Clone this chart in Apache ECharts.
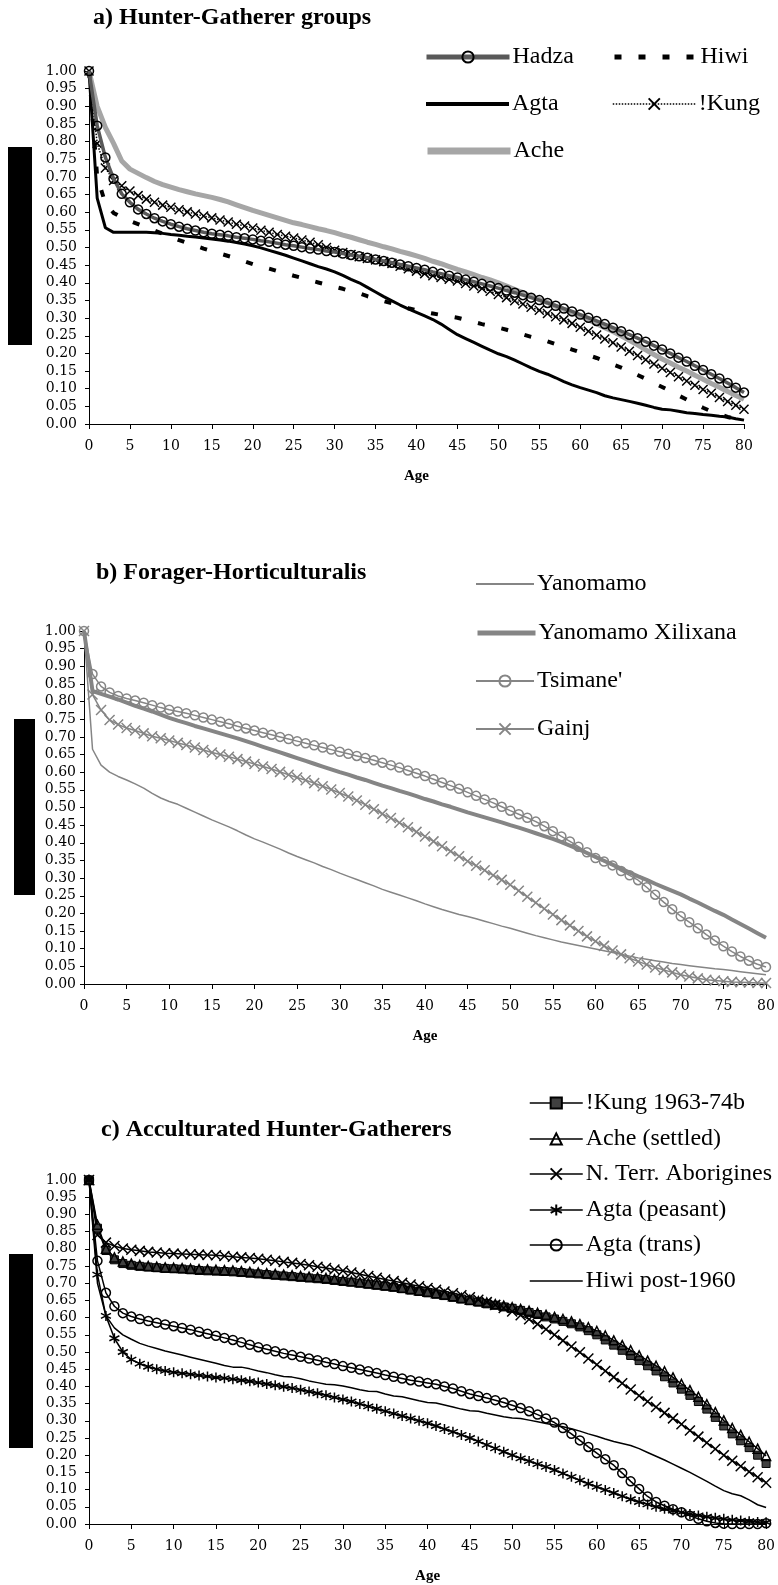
<!DOCTYPE html>
<html>
<head>
<meta charset="utf-8">
<script src="https://cdn.jsdelivr.net/npm/echarts@6/dist/echarts.min.js"></script>
<style>
  html, body { margin: 0; padding: 0; background: #fff; }
  #chart { width: 778px; height: 1585px; }
</style>
</head>
<body>
<div id="chart"></div>
<script>
// Age in years (x values shared by every survivorship curve)
const ages = [0,1,2,3,4,5,6,7,8,9,10,11,12,13,14,15,16,17,18,19,20,21,22,23,24,25,26,27,28,29,30,31,32,33,34,35,36,37,38,39,40,41,42,43,44,45,46,47,48,49,50,51,52,53,54,55,56,57,58,59,60,61,62,63,64,65,66,67,68,69,70,71,72,73,74,75,76,77,78,79,80];

// Panel titles
const titleA = 'a) Hunter-Gatherer groups';
const titleB = 'b) Forager-Horticulturalis';
const titleC = 'c) Acculturated Hunter-Gatherers';
const axisTitle = 'Age';

// a) Hunter-Gatherer groups: proportion surviving to each age
const hadza = [1.000,0.845,0.755,0.695,0.652,0.628,0.608,0.595,0.583,0.574,0.566,0.559,0.553,0.548,0.543,0.539,0.536,0.533,0.529,0.526,0.523,0.519,0.516,0.512,0.508,0.505,0.501,0.497,0.494,0.490,0.487,0.483,0.479,0.475,0.471,0.466,0.462,0.457,0.452,0.447,0.442,0.437,0.431,0.426,0.420,0.415,0.409,0.403,0.397,0.391,0.385,0.378,0.372,0.365,0.358,0.351,0.343,0.335,0.327,0.319,0.310,0.301,0.292,0.283,0.273,0.263,0.253,0.243,0.233,0.222,0.211,0.200,0.188,0.177,0.165,0.153,0.141,0.129,0.116,0.103,0.089];
const hiwi = [1.000,0.700,0.625,0.598,0.585,0.575,0.566,0.557,0.548,0.539,0.530,0.521,0.513,0.505,0.497,0.490,0.483,0.476,0.469,0.461,0.453,0.446,0.440,0.433,0.427,0.420,0.414,0.407,0.401,0.395,0.389,0.383,0.376,0.370,0.362,0.355,0.348,0.342,0.335,0.328,0.322,0.317,0.313,0.309,0.305,0.301,0.295,0.289,0.283,0.278,0.273,0.267,0.260,0.254,0.247,0.241,0.234,0.226,0.219,0.211,0.203,0.195,0.187,0.178,0.169,0.160,0.150,0.139,0.128,0.116,0.105,0.093,0.081,0.069,0.057,0.046,0.036,0.028,0.020,0.014,0.010];
const agta = [1.000,0.640,0.556,0.543,0.543,0.543,0.543,0.543,0.542,0.540,0.537,0.535,0.532,0.530,0.527,0.524,0.521,0.518,0.514,0.510,0.505,0.499,0.492,0.485,0.478,0.470,0.462,0.454,0.446,0.439,0.431,0.421,0.410,0.400,0.387,0.374,0.361,0.349,0.337,0.326,0.316,0.306,0.296,0.283,0.268,0.253,0.242,0.231,0.220,0.209,0.199,0.191,0.181,0.170,0.159,0.149,0.141,0.131,0.120,0.111,0.103,0.096,0.089,0.080,0.074,0.069,0.064,0.059,0.053,0.047,0.042,0.040,0.036,0.032,0.030,0.027,0.025,0.022,0.020,0.015,0.011];
const kung = [1.000,0.795,0.725,0.690,0.675,0.660,0.647,0.637,0.628,0.620,0.614,0.607,0.601,0.595,0.589,0.584,0.578,0.572,0.566,0.561,0.555,0.549,0.543,0.537,0.532,0.527,0.521,0.515,0.508,0.500,0.492,0.486,0.480,0.474,0.469,0.465,0.460,0.455,0.447,0.440,0.433,0.426,0.420,0.415,0.410,0.405,0.398,0.391,0.384,0.376,0.367,0.358,0.349,0.340,0.331,0.322,0.313,0.304,0.295,0.285,0.274,0.263,0.252,0.241,0.230,0.218,0.206,0.194,0.182,0.170,0.158,0.146,0.134,0.122,0.110,0.098,0.087,0.075,0.064,0.053,0.042];
const ache = [1.000,0.900,0.840,0.795,0.745,0.722,0.710,0.698,0.687,0.678,0.671,0.664,0.658,0.652,0.647,0.642,0.636,0.629,0.621,0.613,0.605,0.598,0.591,0.584,0.577,0.570,0.565,0.559,0.553,0.548,0.542,0.535,0.529,0.522,0.515,0.509,0.502,0.496,0.489,0.483,0.476,0.469,0.461,0.454,0.446,0.438,0.431,0.423,0.415,0.408,0.400,0.391,0.381,0.372,0.362,0.353,0.344,0.334,0.325,0.315,0.306,0.295,0.284,0.273,0.262,0.250,0.237,0.224,0.210,0.197,0.184,0.173,0.161,0.150,0.138,0.127,0.115,0.104,0.092,0.081,0.070];

// b) Forager-Horticulturalists
const yanomamo = [1.000,0.665,0.620,0.600,0.588,0.578,0.567,0.555,0.540,0.527,0.517,0.509,0.498,0.487,0.476,0.465,0.455,0.445,0.434,0.422,0.411,0.402,0.392,0.382,0.371,0.361,0.352,0.343,0.333,0.324,0.314,0.305,0.296,0.287,0.278,0.268,0.260,0.252,0.244,0.236,0.227,0.219,0.211,0.204,0.197,0.191,0.185,0.178,0.171,0.164,0.158,0.151,0.144,0.137,0.131,0.125,0.119,0.114,0.109,0.104,0.099,0.094,0.089,0.084,0.079,0.074,0.070,0.066,0.062,0.058,0.055,0.052,0.049,0.046,0.043,0.041,0.038,0.035,0.032,0.029,0.026];
const xilixana = [1.000,0.830,0.822,0.814,0.806,0.797,0.788,0.780,0.772,0.763,0.754,0.746,0.739,0.731,0.724,0.717,0.710,0.703,0.696,0.688,0.680,0.672,0.664,0.656,0.648,0.640,0.632,0.624,0.616,0.608,0.600,0.593,0.585,0.578,0.570,0.562,0.555,0.547,0.540,0.532,0.524,0.517,0.509,0.502,0.494,0.486,0.479,0.472,0.465,0.458,0.450,0.443,0.435,0.427,0.419,0.411,0.402,0.392,0.382,0.371,0.360,0.349,0.338,0.327,0.316,0.305,0.295,0.284,0.274,0.264,0.254,0.242,0.231,0.219,0.207,0.196,0.183,0.170,0.157,0.144,0.131];
const tsimane = [1.000,0.878,0.843,0.826,0.816,0.809,0.803,0.797,0.790,0.783,0.777,0.772,0.767,0.761,0.755,0.749,0.743,0.737,0.730,0.724,0.718,0.712,0.706,0.700,0.694,0.688,0.682,0.676,0.670,0.664,0.658,0.652,0.646,0.640,0.634,0.627,0.620,0.613,0.605,0.597,0.589,0.580,0.571,0.562,0.553,0.543,0.533,0.523,0.513,0.502,0.491,0.481,0.471,0.460,0.447,0.433,0.418,0.404,0.389,0.373,0.357,0.347,0.336,0.320,0.308,0.294,0.274,0.253,0.232,0.212,0.192,0.175,0.158,0.140,0.123,0.107,0.092,0.078,0.066,0.056,0.048];
const gainj = [1.000,0.820,0.776,0.748,0.735,0.725,0.718,0.710,0.702,0.696,0.690,0.683,0.677,0.670,0.663,0.656,0.650,0.644,0.637,0.630,0.623,0.616,0.609,0.601,0.593,0.585,0.577,0.569,0.560,0.551,0.541,0.531,0.520,0.508,0.495,0.482,0.470,0.457,0.444,0.431,0.418,0.404,0.390,0.376,0.362,0.348,0.335,0.322,0.308,0.295,0.281,0.264,0.247,0.230,0.213,0.197,0.181,0.166,0.150,0.135,0.121,0.108,0.095,0.084,0.073,0.064,0.055,0.047,0.040,0.033,0.026,0.021,0.016,0.012,0.010,0.008,0.006,0.005,0.004,0.003,0.003];

// c) Acculturated Hunter-Gatherers
const kung6374 = [1.000,0.860,0.795,0.768,0.757,0.752,0.749,0.747,0.745,0.743,0.742,0.741,0.739,0.737,0.736,0.735,0.734,0.733,0.731,0.729,0.727,0.725,0.723,0.721,0.719,0.717,0.715,0.713,0.711,0.708,0.705,0.703,0.700,0.697,0.694,0.691,0.688,0.684,0.680,0.676,0.672,0.668,0.664,0.659,0.654,0.649,0.645,0.640,0.636,0.631,0.627,0.621,0.615,0.609,0.602,0.596,0.589,0.582,0.573,0.562,0.550,0.535,0.520,0.505,0.490,0.475,0.460,0.445,0.428,0.410,0.392,0.374,0.356,0.334,0.310,0.285,0.262,0.242,0.222,0.200,0.176];
const acheSettled = [1.000,0.870,0.800,0.775,0.763,0.757,0.753,0.750,0.748,0.746,0.745,0.744,0.742,0.741,0.740,0.739,0.738,0.737,0.735,0.733,0.731,0.729,0.727,0.725,0.723,0.721,0.719,0.717,0.715,0.712,0.709,0.706,0.703,0.700,0.697,0.694,0.691,0.687,0.683,0.679,0.675,0.671,0.667,0.662,0.657,0.652,0.648,0.644,0.639,0.635,0.630,0.625,0.620,0.614,0.608,0.602,0.596,0.589,0.581,0.572,0.561,0.548,0.534,0.520,0.505,0.490,0.475,0.460,0.444,0.426,0.407,0.389,0.370,0.348,0.325,0.301,0.279,0.259,0.239,0.219,0.198];
const ntAborigines = [1.000,0.840,0.818,0.808,0.801,0.797,0.794,0.791,0.789,0.787,0.786,0.785,0.784,0.783,0.782,0.781,0.779,0.777,0.775,0.773,0.771,0.768,0.765,0.762,0.759,0.756,0.752,0.748,0.744,0.740,0.736,0.731,0.726,0.721,0.716,0.711,0.706,0.701,0.696,0.691,0.686,0.681,0.676,0.671,0.665,0.659,0.652,0.645,0.637,0.628,0.618,0.607,0.595,0.581,0.566,0.550,0.533,0.516,0.499,0.481,0.463,0.445,0.427,0.409,0.391,0.373,0.356,0.340,0.323,0.307,0.290,0.272,0.254,0.236,0.218,0.200,0.184,0.168,0.152,0.136,0.120];
const agtaPeasant = [1.000,0.725,0.605,0.540,0.500,0.478,0.466,0.457,0.450,0.445,0.441,0.438,0.435,0.432,0.429,0.426,0.424,0.421,0.418,0.415,0.411,0.407,0.403,0.399,0.395,0.390,0.385,0.380,0.374,0.368,0.362,0.356,0.349,0.342,0.335,0.328,0.321,0.314,0.307,0.300,0.293,0.285,0.276,0.268,0.259,0.250,0.240,0.230,0.220,0.210,0.200,0.191,0.183,0.174,0.166,0.157,0.147,0.137,0.127,0.117,0.108,0.099,0.090,0.081,0.072,0.064,0.057,0.050,0.044,0.039,0.034,0.029,0.025,0.021,0.018,0.015,0.012,0.010,0.008,0.006,0.005];
const agtaTrans = [1.000,0.765,0.672,0.633,0.613,0.603,0.596,0.590,0.585,0.580,0.575,0.570,0.565,0.559,0.553,0.547,0.541,0.535,0.528,0.521,0.514,0.508,0.502,0.496,0.491,0.486,0.481,0.476,0.470,0.465,0.459,0.454,0.449,0.444,0.439,0.433,0.428,0.423,0.418,0.414,0.410,0.406,0.400,0.394,0.386,0.378,0.372,0.366,0.360,0.353,0.345,0.337,0.328,0.318,0.307,0.295,0.279,0.262,0.243,0.224,0.206,0.188,0.171,0.148,0.124,0.102,0.080,0.064,0.053,0.043,0.034,0.024,0.015,0.008,0.003,0.001,0.000,0.000,0.000,0.000,0.002];
const hiwiPost1960 = [1.000,0.700,0.605,0.570,0.550,0.537,0.525,0.517,0.510,0.503,0.497,0.491,0.485,0.479,0.473,0.467,0.461,0.456,0.456,0.451,0.445,0.440,0.434,0.429,0.427,0.422,0.416,0.411,0.406,0.405,0.401,0.396,0.390,0.386,0.385,0.378,0.372,0.370,0.364,0.358,0.353,0.352,0.346,0.340,0.334,0.329,0.328,0.322,0.317,0.312,0.308,0.307,0.302,0.297,0.292,0.288,0.283,0.277,0.270,0.262,0.255,0.247,0.240,0.234,0.228,0.219,0.208,0.197,0.186,0.174,0.162,0.150,0.137,0.124,0.110,0.097,0.088,0.082,0.070,0.056,0.048];

const SERIF = 'Liberation Serif';
const TICK_FONT = 'DejaVu Serif';
const CROSS = 'path://M0,0L10,10M10,0L0,10';
const STAR = 'path://M5,0L5,10M0.7,2.5L9.3,7.5M0.7,7.5L9.3,2.5';

function pairs(values) {
  return ages.map((a, i) => [a, values[i]]);
}

// Plot-area placement for the three stacked panels
const grids = [
  { left: 89, top: 71, width: 655, height: 353 },
  { left: 84, top: 631, width: 682, height: 353 },
  { left: 89, top: 1180, width: 681, height: 346 }
];
const yLabelGap = [12, 8, 12];

function xAxisFor(gi) {
  return {
    type: 'value', gridIndex: gi, min: 0, max: 80, interval: 5,
    axisLine: { show: true, lineStyle: { color: '#000', width: 1 } },
    axisTick: { show: true, length: 5, lineStyle: { color: '#000' } },
    axisLabel: { color: '#000', fontFamily: TICK_FONT, fontSize: 14, margin: 15 },
    splitLine: { show: false },
    name: axisTitle, nameLocation: 'middle', nameGap: 45,
    nameTextStyle: { fontFamily: SERIF, fontWeight: 'bold', fontSize: 15, color: '#000' }
  };
}
function yAxisFor(gi) {
  return {
    type: 'value', gridIndex: gi, min: 0, max: 1, interval: 0.05,
    axisLine: { show: true, lineStyle: { color: '#000', width: 1 } },
    axisTick: { show: true, length: 4, lineStyle: { color: '#000' } },
    axisLabel: { color: '#000', fontFamily: TICK_FONT, fontSize: 14, margin: yLabelGap[gi],
      formatter: v => v.toFixed(2) },
    splitLine: { show: false }
  };
}

function line(name, gi, values, opts) {
  return {
    name, type: 'line', xAxisIndex: gi, yAxisIndex: gi,
    data: pairs(values), animation: false, silent: true,
    showAllSymbol: true,
    symbol: opts.symbol || 'none', symbolSize: opts.symbolSize || 8,
    lineStyle: { color: opts.color, width: opts.width, type: opts.dash || 'solid' },
    itemStyle: opts.item || { color: opts.color },
    z: opts.z || 2
  };
}

// One legend block per entry so each can sit exactly where it belongs
function legendItem(name, left, cy, itemWidth, lineWidth, plain) {
  const lg = {
    data: [name], left, top: cy - 13, orient: 'horizontal',
    itemWidth, itemHeight: 14, itemGap: 0, padding: 0,
    selectedMode: false,
    lineStyle: { width: lineWidth },
    textStyle: { fontFamily: SERIF, fontSize: 24, color: '#000', padding: [0, 0, 0, -2] }
  };
  if (plain) lg.itemStyle = { opacity: 0 };
  return lg;
}

const openMark = (stroke) => ({ color: 'transparent', borderColor: stroke, borderWidth: 1.5 });

const series = [
  // a)
  line('Ache', 0, ache, { color: '#a6a6a6', width: 5, z: 1 }),
  line('Agta', 0, agta, { color: '#000', width: 3, z: 2 }),
  line('Hiwi', 0, hiwi, { color: '#000', width: 4, dash: [7, 17], z: 2 }),
  line('!Kung', 0, kung, { color: '#000', width: 1.5, dash: 'dotted', symbol: CROSS, symbolSize: 9, item: openMark('#000'), z: 3 }),
  line('Hadza', 0, hadza, { color: '#595959', width: 3.5, symbol: 'circle', symbolSize: 9, item: openMark('#000'), z: 4 }),
  // b)
  line('Yanomamo', 1, yanomamo, { color: '#858585', width: 1.5 }),
  line('Yanomamo Xilixana', 1, xilixana, { color: '#858585', width: 4 }),
  line("Tsimane'", 1, tsimane, { color: '#858585', width: 1.5, symbol: 'circle', symbolSize: 9, item: openMark('#858585') }),
  line('Gainj', 1, gainj, { color: '#858585', width: 1.5, symbol: CROSS, symbolSize: 10, item: openMark('#858585') }),
  // c)
  line('!Kung 1963-74b', 2, kung6374, { color: '#000', width: 1.5, symbol: 'rect', symbolSize: 8, item: { color: '#404040', borderColor: '#000', borderWidth: 1 } }),
  line('Ache (settled)', 2, acheSettled, { color: '#000', width: 1.5, symbol: 'triangle', symbolSize: 9, item: openMark('#000') }),
  line('N. Terr. Aborigines', 2, ntAborigines, { color: '#000', width: 1.5, symbol: CROSS, symbolSize: 10, item: openMark('#000') }),
  line('Agta (peasant)', 2, agtaPeasant, { color: '#000', width: 1.5, symbol: STAR, symbolSize: 10, item: openMark('#000') }),
  line('Agta (trans)', 2, agtaTrans, { color: '#000', width: 1.5, symbol: 'circle', symbolSize: 9, item: openMark('#000') }),
  line('Hiwi post-1960', 2, hiwiPost1960, { color: '#000', width: 1.5 })
];

const legends = [
  legendItem('Hadza', 424, 58, 83, 5),
  legendItem('Agta', 424, 105, 83, 4, true),
  legendItem('Ache', 424, 152, 83, 7, true),
  legendItem('Hiwi', 612, 58, 83, 5, true),
  legendItem('!Kung', 612, 105, 83, 1.5),
  legendItem('Yanomamo', 475, 585, 58, 2, true),
  legendItem('Yanomamo Xilixana', 475, 634, 58, 5, true),
  legendItem("Tsimane'", 475, 682, 58, 2),
  legendItem('Gainj', 475, 730, 58, 2),
  legendItem('!Kung 1963-74b', 529, 1104, 53, 1.5),
  legendItem('Ache (settled)', 529, 1140, 53, 1.5),
  legendItem('N. Terr. Aborigines', 529, 1175, 53, 1.5),
  legendItem('Agta (peasant)', 529, 1211, 53, 1.5),
  legendItem('Agta (trans)', 529, 1246, 53, 1.5),
  legendItem('Hiwi post-1960', 529, 1282, 53, 1.5, true)
];

const titleStyle = { fontFamily: SERIF, fontWeight: 'bold', fontSize: 24, color: '#000' };

const option = {
  backgroundColor: '#fff',
  animation: false,
  title: [
    { text: titleA, left: 93, top: 6, padding: 0, textStyle: titleStyle },
    { text: titleB, left: 96, top: 561, padding: 0, textStyle: titleStyle },
    { text: titleC, left: 101, top: 1118, padding: 0, textStyle: titleStyle }
  ],
  legend: legends,
  grid: grids,
  xAxis: [xAxisFor(0), xAxisFor(1), xAxisFor(2)],
  yAxis: [yAxisFor(0), yAxisFor(1), yAxisFor(2)],
  series,
  graphic: [
    { type: 'rect', shape: { x: 8, y: 147, width: 24, height: 198 }, style: { fill: '#000' } },
    { type: 'rect', shape: { x: 14, y: 719, width: 21, height: 176 }, style: { fill: '#000' } },
    { type: 'rect', shape: { x: 9, y: 1254, width: 24, height: 194 }, style: { fill: '#000' } }
  ]
};

const chart = echarts.init(document.getElementById('chart'), null, { renderer: 'canvas' });
chart.setOption(option);
</script>
</body>
</html>
